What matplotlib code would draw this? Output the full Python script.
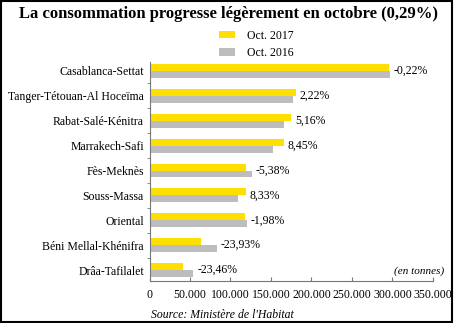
import matplotlib.pyplot as plt
from matplotlib.patches import Rectangle
import numpy as np

# data (tonnes)
regions = ["Casablanca-Settat", "Tanger-Tétouan-Al Hoceïma", "Rabat-Salé-Kénitra",
           "Marrakech-Safi", "Fès-Meknès", "Souss-Massa", "Oriental",
           "Béni Mellal-Khénifra", "Drâa-Tafilalet"]
oct2017 = [295800, 180500, 174300, 165800, 119300, 118800, 117700, 63300, 41200]
oct2016 = [296450, 176600, 165700, 152900, 126100, 109700, 120100, 83200, 53800]
changes = ["-0,22%", "2,22%", "5,16%", "8,45%", "-5,38%", "8,33%", "-1,98%",
           "-23,93%", "-23,46%"]
xticks = [0, 50000, 100000, 150000, 200000, 250000, 300000, 350000]
xticklabels = ["0", "50.000", "100.000", "150.000", "200.000", "250.000",
               "300.000", "350.000"]

yellow = "#FFDF00"
grey = "#BDBDC0"
axcol = "#777777"

plt.rcParams['font.family'] = ['Liberation Serif', 'DejaVu Serif']

fig = plt.figure(figsize=(4.54, 3.23), dpi=100)
ax = fig.add_axes([0.3293, 0.130, 0.6244, 0.678])

y = np.arange(len(regions))
h = 0.28
b1 = ax.barh(y - h / 2, oct2017, height=h, color=yellow, label="Oct. 2017")
b2 = ax.barh(y + h / 2, oct2016, height=h, color=grey, label="Oct. 2016")

for i in range(len(regions)):
    ax.annotate(changes[i], (max(oct2017[i], oct2016[i]), y[i]),
                xytext=(3, 0), textcoords="offset points",
                va="center", ha="left", fontsize=8.5)

ax.set_xlim(0, 350000)
ax.set_ylim(len(regions) - 0.56, -0.36)
ax.set_xticks(xticks)
ax.set_xticklabels(xticklabels, fontsize=8.5)
ax.set_yticks(y)
ax.set_yticklabels(regions, fontsize=8.5)
ax.set_yticks(np.arange(len(regions) - 1) + 0.5, minor=True)
ax.tick_params(axis="y", which="major", length=0, pad=4)
ax.tick_params(axis="y", which="minor", length=2, direction="out", color=axcol)
ax.tick_params(axis="x", length=3, direction="in", color=axcol, pad=6)

for s in ["top", "right"]:
    ax.spines[s].set_visible(False)
for s in ["left", "bottom"]:
    ax.spines[s].set_color(axcol)
    ax.spines[s].set_linewidth(0.8)

fig.text(0.504, 0.958, "La consommation progresse légèrement en octobre (0,29%)",
         ha="center", va="center", fontsize=12, fontweight="bold")
ax.legend(handles=[b1, b2], loc="upper left", bbox_to_anchor=(213 / 454, 1 - 24 / 323),
          bbox_transform=fig.transFigure, frameon=False, fontsize=8.5,
          handlelength=1.4, handleheight=0.6, handletextpad=1.0, labelspacing=0.45,
          borderpad=0)
fig.text(444 / 454, 1 - 271 / 323, "(en tonnes)", ha="right", va="center",
         fontsize=8, style="italic")
fig.text(151 / 454, 1 - 315 / 323, "Source: Ministère de l'Habitat", ha="left",
         va="center", fontsize=8.5, style="italic")

fig.patches.append(Rectangle((0.002, 0.003), 0.994, 0.994, transform=fig.transFigure,
                             fill=False, edgecolor="black", linewidth=1.5))

fig.savefig("out.png", dpi=100)
